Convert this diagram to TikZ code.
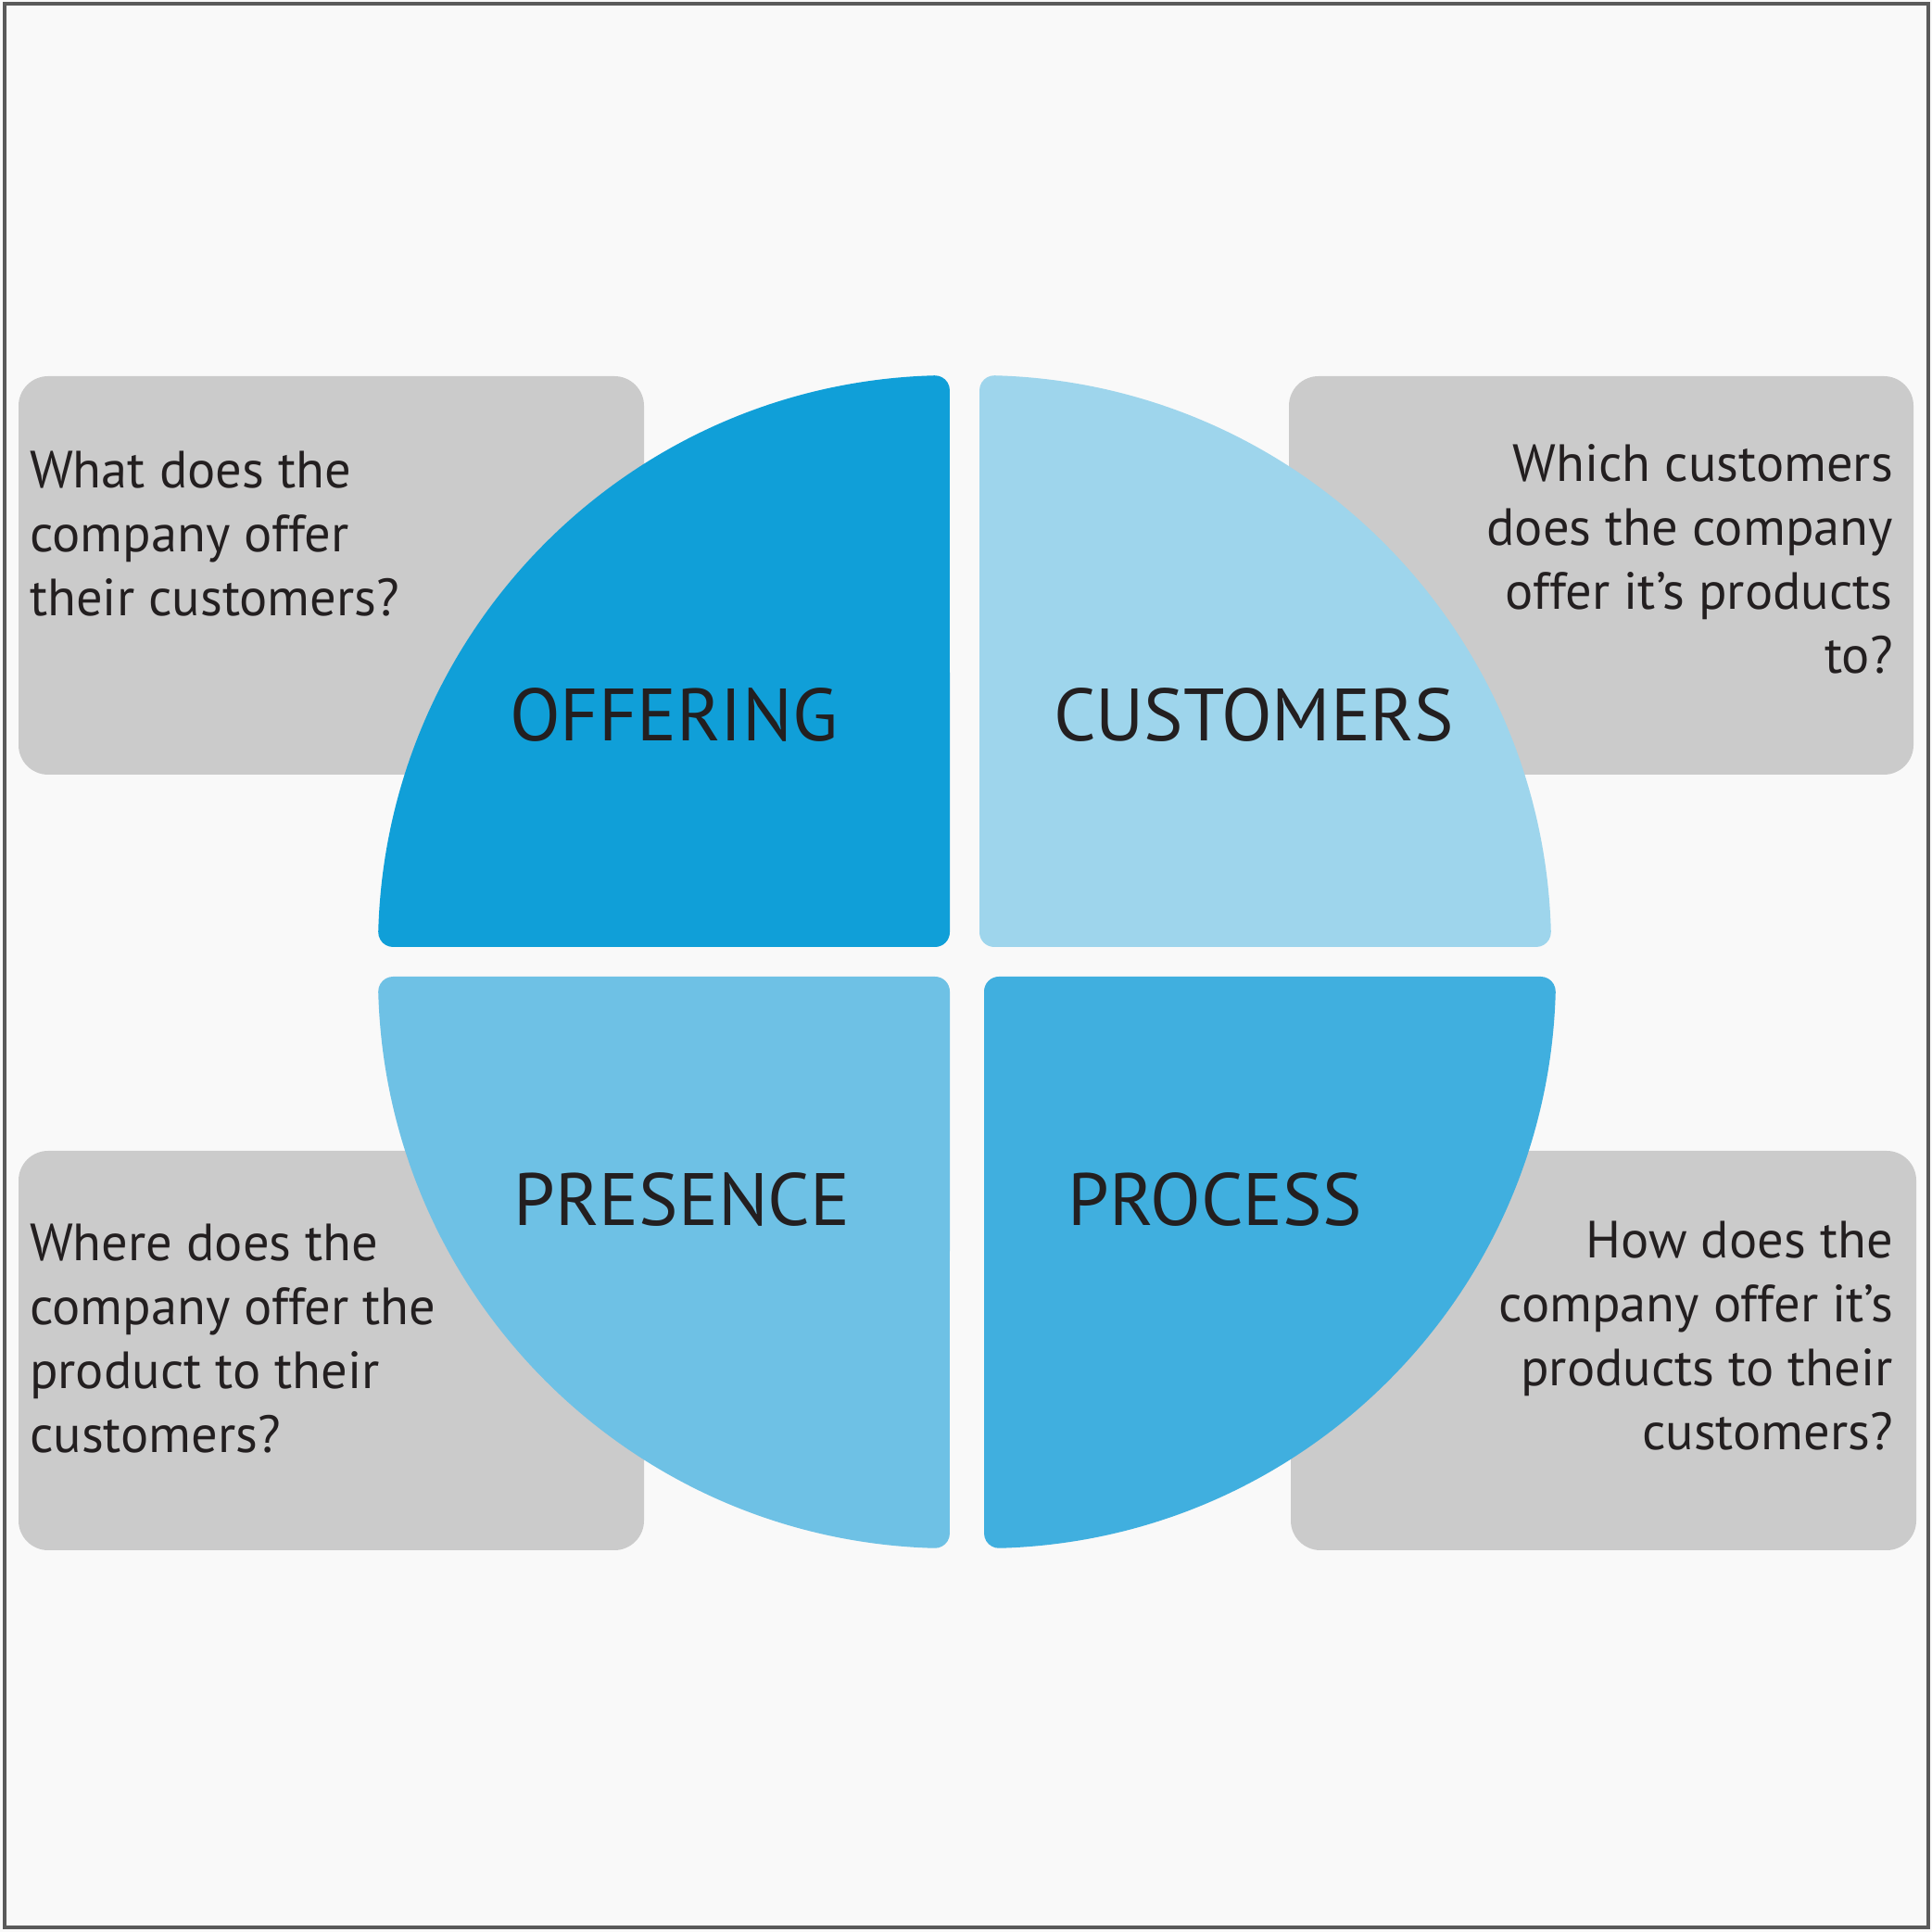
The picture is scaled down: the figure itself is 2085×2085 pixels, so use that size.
\documentclass[tikz,border=0pt]{standalone}
\usepackage{fontspec}
\setmainfont{PT Sans}
\definecolor{bgc}{HTML}{F9F9F9}
\definecolor{framec}{HTML}{5A5A5A}
\definecolor{boxc}{HTML}{CBCBCB}
\definecolor{offc}{HTML}{109FD8}
\definecolor{cusc}{HTML}{9ED5EC}
\definecolor{prec}{HTML}{6EC1E5}
\definecolor{proc}{HTML}{40AFDF}
\definecolor{txtc}{HTML}{231F20}
\newcommand\quadpath{(-600.787,0) arc[start angle=270,end angle=178.4744,radius=16] arc[start angle=178.4744,end angle=91.5256,radius=617] arc[start angle=91.5256,end angle=0,radius=16] -- (0,16) arc[start angle=0,end angle=-90,radius=16] -- cycle}
\tikzset{
  qbox/.style={fill=boxc, rounded corners=32pt, inner sep=0pt, draw=none},
  qtext/.style={text=txtc, inner sep=0pt, font=\fontsize{56.5}{69}\selectfont},
  qlabel/.style={text=txtc, inner sep=0pt, font=\fontsize{80}{90}\selectfont, anchor=base},
}
\begin{document}
\begin{tikzpicture}[x=1pt,y=1pt]
\useasboundingbox (0,0) rectangle (2085,2085);
\fill[bgc] (0,0) rectangle (2085,2085);
\draw[framec, line width=4pt] (4.5,4.5) rectangle (2080.5,2080.5);
% grey boxes
\node[qbox, minimum width=675pt, minimum height=430pt] (boxTL) at (357.5,1464) {};
\node[qbox, minimum width=674pt, minimum height=430pt] (boxTR) at (1728,1464) {};
\node[qbox, minimum width=675pt, minimum height=431pt] (boxBL) at (357.5,627.5) {};
\node[qbox, minimum width=675pt, minimum height=431pt] (boxBR) at (1730.5,627.5) {};
% quadrants
\begin{scope}[shift={(1025,1063)}]
  \fill[offc] \quadpath;
\end{scope}
\begin{scope}[shift={(1057,1063)}, xscale=-1]
  \fill[cusc] \quadpath;
\end{scope}
\begin{scope}[shift={(1025,1031)}, yscale=-1]
  \fill[prec] \quadpath;
\end{scope}
\begin{scope}[shift={(1062,1031)}, xscale=-1, yscale=-1]
  \fill[proc] \quadpath;
\end{scope}
% labels
\node[qlabel] (offering) at (727,1285) {OFFERING};
\node[qlabel] (customers) at (1353,1285) {CUSTOMERS};
\node[qlabel] (presence) at (736,762) {PRESENCE};
\node[qlabel] (process) at (1311,762) {PROCESS};
% questions (anchor base = last line)
\node[qtext, anchor=base west, align=left] (qTL) at (32,1420) {What does the\\company offer\\their customers?};
\node[qtext, anchor=base east, align=right] (qTR) at (2043,1358) {Which customers\\does the company\\offer it’s products\\to?};
\node[qtext, anchor=base west, align=left] (qBL) at (32,517) {Where does the\\company offer the\\product to their\\customers?};
\node[qtext, anchor=base east, align=right] (qBR) at (2043,520) {How does the\\company offer it’s\\products to their\\customers?};
\end{tikzpicture}
\end{document}
